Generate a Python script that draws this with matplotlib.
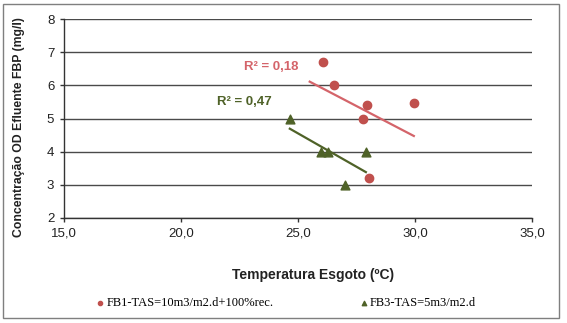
import numpy as np
import matplotlib
matplotlib.use("Agg")
import matplotlib.pyplot as plt
from matplotlib.patches import Rectangle
from matplotlib.ticker import FuncFormatter, MultipleLocator

# dados
fb1_temp = [26.05, 26.55, 27.95, 29.95, 27.77, 28.03]
fb1_od = [6.70, 6.00, 5.40, 5.47, 4.98, 3.22]
fb3_temp = [24.65, 26.0, 26.3, 27.9, 27.0]
fb3_od = [5.0, 4.0, 4.0, 4.0, 3.0]

fb1_label = "FB1-TAS=10m3/m2.d+100%rec."
fb3_label = "FB3-TAS=5m3/m2.d"
fb1_backward = 0.55  # linha de tendencia prolongada para tras

red = "#C0504D"
red_line = "#D4646A"
green = "#4F6228"

def fit(x, y):
    x = np.asarray(x)
    y = np.asarray(y)
    a, b = np.polyfit(x, y, 1)
    r2 = np.corrcoef(x, y)[0, 1] ** 2
    return a, b, r2

def comma(v, pos=None):
    return f"{v:.1f}".replace(".", ",")

plt.rcParams["font.family"] = ["Liberation Sans", "DejaVu Sans"]

fig = plt.figure(figsize=(5.67, 3.23), dpi=100)
ax = fig.add_axes([64 / 567, 1 - 218 / 323, 468 / 567, 199 / 323])

ax.set_xlim(15, 35)
ax.set_ylim(2, 8)
ax.xaxis.set_major_locator(MultipleLocator(5))
ax.yaxis.set_major_locator(MultipleLocator(1))
ax.xaxis.set_major_formatter(FuncFormatter(comma))
ax.yaxis.set_major_formatter(FuncFormatter(lambda v, p: f"{v:.0f}"))
ax.grid(axis="y", color="#4a4a4a", lw=1.0)
ax.set_axisbelow(True)
for s in ["top", "right"]:
    ax.spines[s].set_visible(False)
for s in ["left", "bottom"]:
    ax.spines[s].set_color("#333333")
    ax.spines[s].set_linewidth(1.0)
ax.tick_params(axis="both", direction="out", length=3, width=1, color="#333333",
               labelsize=9.5, labelcolor="#222222", pad=4)

ax.scatter(fb1_temp, fb1_od, s=36, color=red, zorder=3, label=fb1_label)
ax.scatter(fb3_temp, fb3_od, s=40, marker="^", color=green, zorder=3, label=fb3_label)

a1, b1, r1 = fit(fb1_temp, fb1_od)
xs = np.array([min(fb1_temp) - fb1_backward, max(fb1_temp)])
ax.plot(xs, a1 * xs + b1, color=red_line, lw=1.6, zorder=2)
a3, b3, r3 = fit(fb3_temp, fb3_od)
xs = np.array([min(fb3_temp), max(fb3_temp)])
ax.plot(xs, a3 * xs + b3, color=green, lw=1.6, zorder=2)

ax.text(23.85, 6.55, f"R² = {r1:.2f}".replace(".", ","), color=red_line,
        fontsize=9.5, fontweight="bold", ha="center", va="center")
ax.text(22.71, 5.50, f"R² = {r3:.2f}".replace(".", ","), color=green,
        fontsize=9.5, fontweight="bold", ha="center", va="center")

ax.set_xlabel("Temperatura Esgoto (ºC)", fontsize=10, fontweight="bold", color="#222222")
ax.xaxis.set_label_coords(0.532, -0.251)
ax.set_ylabel("Concentração OD Efluente FBP (mg/l)", fontsize=8.8, fontweight="bold", color="#222222")
ax.yaxis.set_label_coords(-0.083, 0.457)

fig.legend(loc="center", bbox_to_anchor=(0.505, 1 - 303 / 323), ncol=2, frameon=False,
           prop={"family": "Liberation Serif", "size": 9}, markerscale=0.5,
           handlelength=0.6, handletextpad=0.2, columnspacing=6.9, borderpad=0)

fig.patches.append(Rectangle((3 / 567, 1 - 318 / 323), 556 / 567, 314 / 323,
                             transform=fig.transFigure, fill=False,
                             edgecolor="#7f7f7f", lw=1.0))

fig.savefig("out.png", dpi=100)
